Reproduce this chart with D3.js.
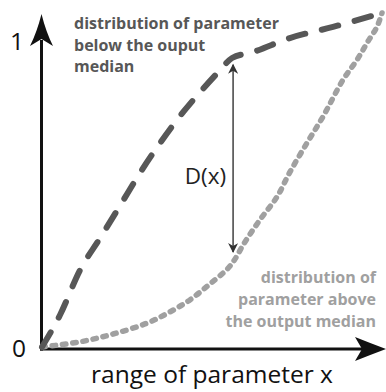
<!DOCTYPE html>
<html lang="en">
<head>
<meta charset="utf-8">
<title>D(x)</title>
<script src="https://d3js.org/d3.v7.min.js"></script>
<style>
  body { margin: 0; background: #fff; }
  svg text { font-family: "Open Sans", "Noto Sans", sans-serif; }
  .lbl { font-weight: bold; font-size: 16px; }
</style>
</head>
<body>
<div id="chart"></div>
<script>
// cumulative distributions (x in [0,1], y in units of the "1" tick)
var belowX = [0, 0.053, 0.112, 0.171, 0.229, 0.288, 0.347, 0.406, 0.465, 0.524, 0.559, 0.621, 0.729, 0.856, 1];
var belowY = [0, 0.106, 0.255, 0.361, 0.467, 0.576, 0.675, 0.765, 0.844, 0.917, 0.957, 0.977, 1.023, 1.060, 1.106];
var aboveX = [0, 0.112, 0.209, 0.309, 0.376, 0.435, 0.494, 0.553, 0.597, 0.641, 0.691, 0.729, 0.779, 0.826, 0.885, 0.926, 0.956, 0.985, 1];
var aboveY = [0, 0.017, 0.043, 0.079, 0.116, 0.156, 0.209, 0.268, 0.348, 0.421, 0.497, 0.579, 0.675, 0.762, 0.884, 0.950, 1.007, 1.060, 1.106];
var yTicks = [0, 1];
var dAt = 0.562;   // where D(x) is measured

var width = 386, height = 392;

var svg = d3.select("#chart").append("svg")
    .attr("width", width)
    .attr("height", height);

var x = d3.scaleLinear().domain([0, 1]).range([42, 382]);
var y = d3.scaleLinear().domain([0, 1]).range([347, 45]);

var below = d3.zip(belowX, belowY);
var above = d3.zip(aboveX, aboveY);

function valueAt(xs, ys, v) {
  var i = d3.bisectLeft(xs, v);
  if (i <= 0) return ys[0];
  var t = (v - xs[i - 1]) / (xs[i] - xs[i - 1]);
  return ys[i - 1] + t * (ys[i] - ys[i - 1]);
}

// axes
svg.append("line")
    .attr("x1", 41.5).attr("x2", 41.5)
    .attr("y1", y(0) + 3.5).attr("y2", 40)
    .attr("stroke", "#111").attr("stroke-width", 3);
svg.append("line")
    .attr("x1", 40).attr("x2", 362)
    .attr("y1", y(0) + 2).attr("y2", y(0) + 2)
    .attr("stroke", "#111").attr("stroke-width", 3);
svg.append("path")
    .attr("d", "M41.5,14 Q46,32 53,46 L41.5,39 L30,46 Q37,32 41.5,14 Z")
    .attr("fill", "#111");
svg.append("path")
    .attr("d", "M386,349 Q370,343 355,337 L362,349 L355,361 Q370,355 386,349 Z")
    .attr("fill", "#111");

svg.selectAll(".ytick")
    .data(yTicks)
  .enter().append("text")
    .attr("class", "ytick")
    .attr("x", function(d) { return d ? 17 : 19; })
    .attr("y", function(d) { return d ? y(d) + 5 : y(d) + 10; })
    .attr("text-anchor", "middle")
    .attr("font-size", 24.5)
    .attr("fill", "#111")
    .text(function(d) { return d; });

svg.append("text")
    .attr("x", 212).attr("y", 383)
    .attr("text-anchor", "middle")
    .attr("font-size", 24.5)
    .attr("fill", "#111")
    .text("range of parameter x");

// curves
svg.append("path")
    .datum(above)
    .attr("d", d3.line()
        .x(function(d) { return x(d[0]); })
        .y(function(d) { return y(d[1]); })
        .curve(d3.curveCatmullRom))
    .attr("fill", "none")
    .attr("stroke", "#a0a0a0")
    .attr("stroke-width", 5.5)
    .attr("stroke-linecap", "round")
    .attr("stroke-dasharray", "3.5,6.8");

svg.append("path")
    .datum(below)
    .attr("d", d3.line()
        .x(function(d) { return x(d[0]); })
        .y(function(d) { return y(d[1]); })
        .curve(d3.curveMonotoneX))
    .attr("fill", "none")
    .attr("stroke", "#575757")
    .attr("stroke-width", 6)
    .attr("stroke-linecap", "round")
    .attr("stroke-dasharray", "17,17");

// D(x) arrow
svg.append("defs").append("marker")
    .attr("id", "head")
    .attr("viewBox", "0 0 10 10")
    .attr("refX", 9).attr("refY", 5)
    .attr("markerWidth", 14).attr("markerHeight", 10)
    .attr("markerUnits", "userSpaceOnUse")
    .attr("orient", "auto-start-reverse")
  .append("path")
    .attr("d", "M0,0 L10,5 L0,10 L3,5 Z")
    .attr("fill", "#333");

var topY = y(valueAt(belowX, belowY, dAt)) + 7;
var botY = y(valueAt(aboveX, aboveY, dAt)) - 9;
svg.append("line")
    .attr("x1", x(dAt)).attr("x2", x(dAt))
    .attr("y1", botY).attr("y2", topY)
    .attr("stroke", "#333").attr("stroke-width", 1.4)
    .attr("marker-start", "url(#head)")
    .attr("marker-end", "url(#head)");

svg.append("text")
    .attr("x", x(dAt) - 7).attr("y", 184)
    .attr("text-anchor", "end")
    .attr("font-size", 22.5)
    .attr("fill", "#222")
    .text("D(x)");

// curve labels
var belowLabel = ["distribution of parameter", "below the ouput", "median"];
var aboveLabel = ["distribution of", "parameter above", "the output median"];

svg.selectAll(".lb")
    .data(belowLabel)
  .enter().append("text")
    .attr("class", "lbl lb")
    .attr("x", 74)
    .attr("y", function(d, i) { return 29 + i * 21.5; })
    .attr("fill", "#575757")
    .text(function(d) { return d; });

svg.selectAll(".la")
    .data(aboveLabel)
  .enter().append("text")
    .attr("class", "lbl la")
    .attr("x", 376)
    .attr("y", function(d, i) { return 283 + i * 22; })
    .attr("text-anchor", "end")
    .attr("fill", "#a0a0a0")
    .text(function(d) { return d; });
</script>
</body>
</html>
